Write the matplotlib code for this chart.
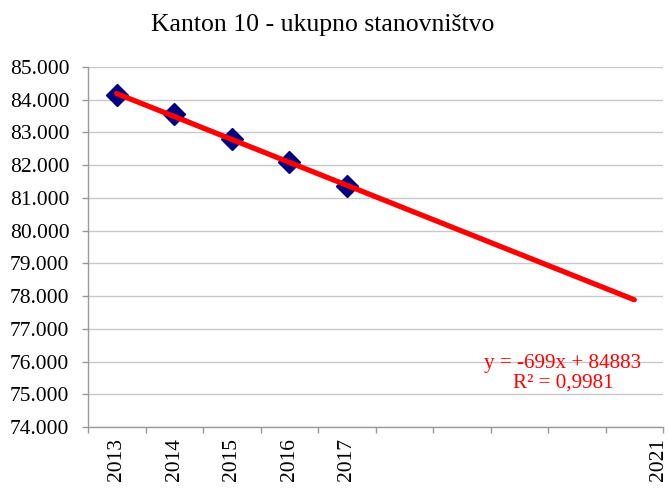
import numpy as np
import matplotlib
matplotlib.use("Agg")
import matplotlib.pyplot as plt
from matplotlib.ticker import FixedLocator

# Data
years = ["2013", "2014", "2015", "2016", "2017"]
population = [84130, 83560, 82790, 82100, 81360]
n_categories = 10
last_label = "2021"
y_ticks = [74000, 75000, 76000, 77000, 78000, 79000, 80000, 81000, 82000, 83000, 84000, 85000]
y_tick_labels = ["74.000", "75.000", "76.000", "77.000", "78.000", "79.000",
                 "80.000", "81.000", "82.000", "83.000", "84.000", "85.000"]
title = "Kanton 10 - ukupno stanovništvo"
equation_text = "y = -699x + 84883\nR² = 0,9981"

plt.rcParams['font.family'] = ['Liberation Serif', 'DejaVu Serif']

fig = plt.figure(figsize=(6.68, 4.88), dpi=100)
W, H = 668, 488
ax = fig.add_axes([88 / W, (H - 427) / H, (663 - 88) / W, (427 - 67) / H])

x = np.arange(1, len(years) + 1)
ax.plot(x, population, color="#000080", lw=1.2, marker="D", markersize=11,
        markerfacecolor="#000080", markeredgecolor="#000080", zorder=3)

# Linear trendline extended over all categories
coef = np.polyfit(x, population, 1)
xt = np.array([1, n_categories])
ax.plot(xt, np.polyval(coef, xt), color="#ff0000", lw=3.8, solid_capstyle="round", zorder=4)

ax.set_xlim(0.5, n_categories + 0.5)
ax.set_ylim(y_ticks[0], y_ticks[-1])

ax.yaxis.set_major_locator(FixedLocator(y_ticks))
ax.set_yticklabels(y_tick_labels, fontsize=15.5)
ax.grid(axis="y", color="#c8c8c8", lw=1.0)
ax.set_axisbelow(True)

ax.set_xticks(list(x) + [n_categories + 0.42])
ax.set_xticklabels(years + [last_label], rotation=90, fontsize=15.5)
ax.tick_params(axis="x", which="major", length=0, pad=8)
ax.set_xticks(np.arange(0.5, n_categories + 1), minor=True)
ax.tick_params(axis="x", which="minor", length=4.5, color="#999999", width=1)
ax.tick_params(axis="y", length=4.5, color="#999999", width=1, pad=9)

for s in ["top", "right"]:
    ax.spines[s].set_visible(False)
for s in ["left", "bottom"]:
    ax.spines[s].set_color("#999999")
    ax.spines[s].set_linewidth(1)

fig.text(323 / W, 1 - 25 / H, title, ha="center", va="center", fontsize=18.5)
ax.text(563 / W, 1 - 373 / H, equation_text, transform=fig.transFigure, ha="center",
        va="center", multialignment="center", color="#ff0000", fontsize=15.2, linespacing=1.05)

fig.savefig("out.png", dpi=100)
